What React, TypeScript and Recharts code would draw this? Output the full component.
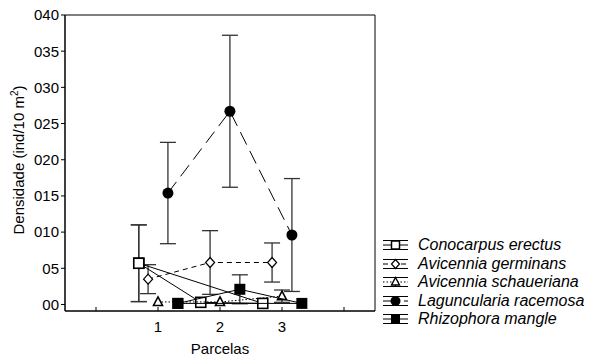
import React from 'react';
import { ScatterChart, Scatter, XAxis, YAxis, ErrorBar, ReferenceArea } from 'recharts';

// parcelas (x categories) and the species densities
const parcelas = [1, 2, 3];
const xTicks = [0, 1, 2, 3, 4];
const yTicks = [0, 5, 10, 15, 20, 25, 30, 35, 40];

const conocarpus = [5.7, 0.3, 0.15];
const conocarpusErr = [5.3, 0, 0];
const germinans = [3.5, 5.8, 5.8];
const germinansErr = [2.0, 4.4, 2.7];
const schaueriana = [0.35, 0.35, 1.15];
const schauerianaErr = [0, 0, 0.85];
const laguncularia = [15.4, 26.7, 9.6];
const lagunculariaErr = [7.0, 10.5, 7.8];
const rhizophora = [0.15, 2.1, 0.15];
const rhizophoraErr = [0, 2.0, 0];

const FONT = '"Liberation Sans", Arial, sans-serif';
const Y_MIN = -0.9;

const build = (vals: number[], errs: number[], shift: number, closed = false) => {
  const rows = parcelas.map((p, i) => ({ x: p + shift, y: vals[i], err: errs[i] }));
  return closed ? [...rows, rows[0]] : rows;
};

const openSquare = (p: any) => (
  <rect x={p.cx - 5} y={p.cy - 5} width={10} height={10} fill="#fff" stroke="#000" strokeWidth={1.6} />
);
const filledSquare = (p: any) => <rect x={p.cx - 5.5} y={p.cy - 5.5} width={11} height={11} fill="#000" />;
const diamond = (p: any) => (
  <polygon
    points={`${p.cx},${p.cy - 5} ${p.cx + 4.5},${p.cy} ${p.cx},${p.cy + 5} ${p.cx - 4.5},${p.cy}`}
    fill="#fff"
    stroke="#000"
    strokeWidth={1.2}
  />
);
const triangle = (p: any) => (
  <polygon
    points={`${p.cx},${p.cy - 5} ${p.cx + 4.5},${p.cy + 3.5} ${p.cx - 4.5},${p.cy + 3.5}`}
    fill="#fff"
    stroke="#000"
    strokeWidth={1.6}
  />
);
const dot = (p: any) => <circle cx={p.cx} cy={p.cy} r={5.5} fill="#000" />;

const XTick = (props: any) => {
  const { x, y, payload } = props;
  const v = payload.value;
  return (
    <g>
      <line x1={x} x2={x} y1={y} y2={y - 4} stroke="#000" />
      {v >= 1 && v <= 3 && (
        <text x={x} y={y + 21} textAnchor="middle" fontSize={15} fontFamily={FONT} fill="#000">
          {v}
        </text>
      )}
    </g>
  );
};

const series = [
  { name: 'Conocarpus erectus', data: build(conocarpus, conocarpusErr, -0.31, true), shape: openSquare, dash: undefined, icon: 'osq' },
  { name: 'Avicennia germinans', data: build(germinans, germinansErr, -0.16), shape: diamond, dash: '5 4', icon: 'dia' },
  { name: 'Avicennia schaueriana', data: build(schaueriana, schauerianaErr, 0), shape: triangle, dash: '1.5 2', icon: 'tri' },
  { name: 'Laguncularia racemosa', data: build(laguncularia, lagunculariaErr, 0.16), shape: dot, dash: '14 7', icon: 'dot' },
  { name: 'Rhizophora mangle', data: build(rhizophora, rhizophoraErr, 0.32, true), shape: filledSquare, dash: undefined, icon: 'fsq' },
];

const LegendIcon = ({ icon, dash }: { icon: string; dash?: string }) => {
  const c = 9;
  const m = 12.5;
  return (
    <svg width={25} height={18} style={{ display: 'block' }}>
      <line x1={0} x2={25} y1={c - 4.5} y2={c - 4.5} stroke="#000" />
      <line x1={0} x2={25} y1={c + 4.5} y2={c + 4.5} stroke="#000" />
      <line x1={m} x2={m} y1={c - 4.5} y2={c + 4.5} stroke="#000" />
      <line x1={0} x2={25} y1={c} y2={c} stroke="#000" strokeDasharray={dash} />
      {icon === 'osq' && <rect x={m - 4} y={c - 4} width={8} height={8} fill="#fff" stroke="#000" strokeWidth={1.5} />}
      {icon === 'fsq' && <rect x={m - 4.5} y={c - 4.5} width={9} height={9} fill="#000" />}
      {icon === 'dia' && (
        <polygon points={`${m},${c - 4.5} ${m + 4},${c} ${m},${c + 4.5} ${m - 4},${c}`} fill="#fff" stroke="#000" strokeWidth={1.2} />
      )}
      {icon === 'tri' && (
        <polygon points={`${m},${c - 4.5} ${m + 4},${c + 3} ${m - 4},${c + 3}`} fill="#fff" stroke="#000" strokeWidth={1.4} />
      )}
      {icon === 'dot' && <circle cx={m} cy={c} r={5} fill="#000" />}
    </svg>
  );
};

export default function App() {
  return (
    <div style={{ position: 'relative', width: 589, height: 358, fontFamily: FONT, background: '#fff' }}>
      <style>{'body{margin:0}'}</style>
      <ScatterChart width={589} height={358} margin={{ top: 15, right: 214, bottom: 0, left: 0 }}>
        <XAxis
          type="number"
          dataKey="x"
          domain={[-0.5, 4.5]}
          ticks={xTicks}
          tick={<XTick />}
          tickSize={0}
          tickMargin={0}
          tickLine={false}
          height={47}
          axisLine={{ stroke: '#000' }}
          allowDataOverflow
        />
        <YAxis
          type="number"
          dataKey="y"
          domain={[Y_MIN, 40]}
          ticks={yTicks}
          tickFormatter={(v: number) => '0' + v}
          tick={{ fill: '#000', fontSize: 15, fontFamily: FONT }}
          tickSize={4}
          tickMargin={2}
          tickLine={{ stroke: '#000' }}
          axisLine={{ stroke: '#000' }}
          width={65}
          allowDataOverflow
        />
        <ReferenceArea x1={-0.5} x2={4.5} y1={Y_MIN} y2={40} fill="none" stroke="#000" strokeWidth={1} />
        {series.map((s) => (
          <Scatter
            key={s.name}
            name={s.name}
            data={s.data}
            shape={s.shape}
            line={{ stroke: '#000', strokeWidth: 1, strokeDasharray: s.dash }}
            lineType="joint"
            isAnimationActive={false}
          >
            <ErrorBar dataKey="err" direction="y" width={8} stroke="#333" strokeWidth={1.3} />
          </Scatter>
        ))}
      </ScatterChart>

      <div
        style={{
          position: 'absolute',
          left: 18,
          top: 160,
          transform: 'translate(-50%, -50%) rotate(-90deg)',
          whiteSpace: 'nowrap',
          fontSize: 15,
        }}
      >
        Densidade (ind/10 m<sup style={{ fontSize: 10 }}>2</sup>)
      </div>
      <div style={{ position: 'absolute', left: 220, top: 340, transform: 'translateX(-50%)', fontSize: 15, lineHeight: '17px' }}>
        Parcelas
      </div>

      <div style={{ position: 'absolute', left: 383, top: 236 }}>
        {series.map((s) => (
          <div key={s.name} style={{ display: 'flex', alignItems: 'center', height: 18.5 }}>
            <LegendIcon icon={s.icon} dash={s.dash} />
            <span style={{ marginLeft: 10, fontSize: 16, lineHeight: '18px', fontStyle: 'italic', whiteSpace: 'nowrap' }}>
              {s.name}
            </span>
          </div>
        ))}
      </div>
    </div>
  );
}
